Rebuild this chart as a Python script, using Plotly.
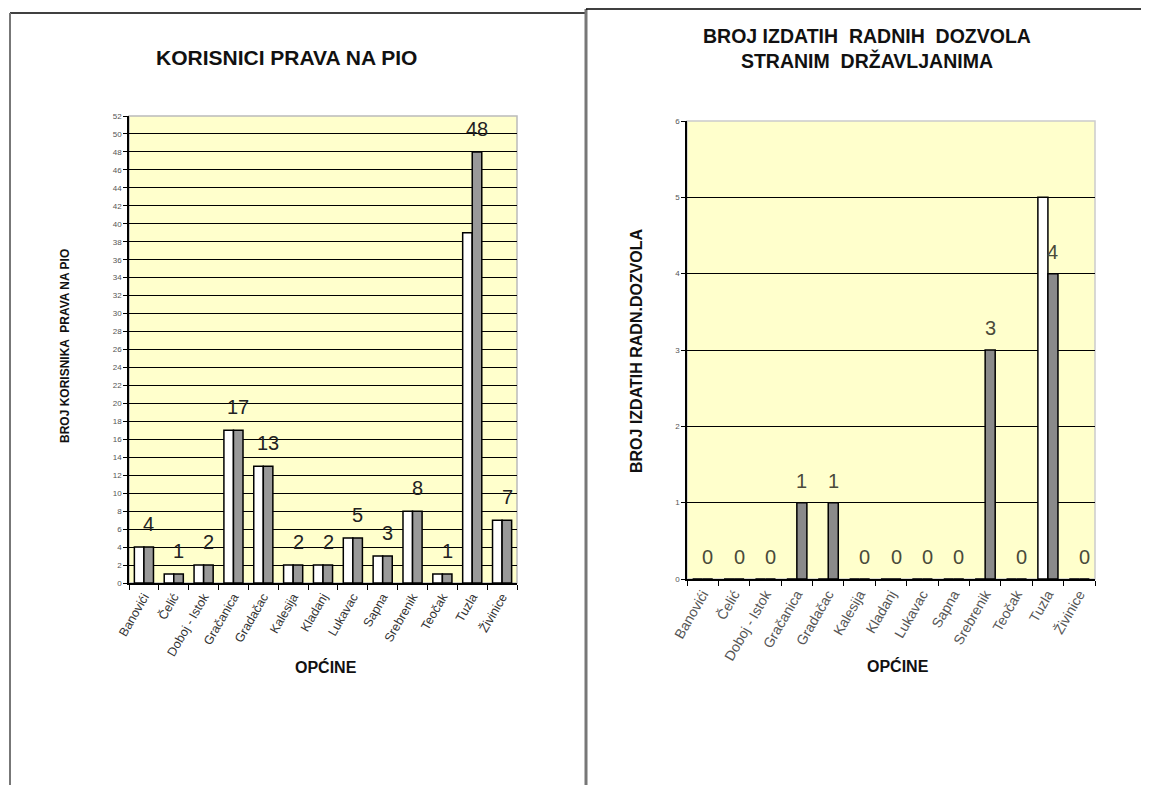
import plotly.graph_objects as go

# The page body has an 8px margin, so the figure is shrunk by that much and positions shifted.
OFF = 8
W, H = 1149 - OFF, 785 - OFF

opcine = ["Banovići", "Čelić", "Doboj - Istok", "Gračanica", "Gradačac", "Kalesija",
          "Kladanj", "Lukavac", "Sapna", "Srebrenik", "Teočak", "Tuzla", "Živinice"]

# Left chart: KORISNICI PRAVA NA PIO
pio_bijela = [4, 1, 2, 17, 13, 2, 2, 5, 3, 8, 1, 39, 7]
pio_siva = [4, 1, 2, 17, 13, 2, 2, 5, 3, 8, 1, 48, 7]
pio_yticks = list(range(0, 53, 2))

# Right chart: BROJ IZDATIH RADNIH DOZVOLA
dozvole_bijela = [0, 0, 0, 0, 0, 0, 0, 0, 0, 0, 0, 5, 0]
dozvole_siva = [0, 0, 0, 1, 1, 0, 0, 0, 0, 3, 0, 4, 0]
dozvole_yticks = list(range(0, 7, 1))

FONT = "Liberation Sans, Arial, sans-serif"


def px_x(p):
    return (p - OFF) / W


def px_y(p):
    return 1 - (p - OFF) / H


L_X = [px_x(129), px_x(517)]
L_Y = [px_y(583), px_y(116)]
R_X = [px_x(687), px_x(1095)]
R_Y = [px_y(579), px_y(121)]

fig = go.Figure()

fig.add_trace(go.Bar(x=opcine, y=pio_bijela, marker=dict(color="white", line=dict(color="black", width=1.5)),
                     xaxis="x", yaxis="y", hoverinfo="x+y"))
fig.add_trace(go.Bar(x=opcine, y=pio_siva, marker=dict(color="#999999", line=dict(color="black", width=1.5)),
                     xaxis="x", yaxis="y", hoverinfo="x+y"))
fig.add_trace(go.Bar(x=opcine, y=dozvole_bijela, marker=dict(color="white", line=dict(color="black", width=1.5)),
                     xaxis="x2", yaxis="y2", hoverinfo="x+y"))
fig.add_trace(go.Bar(x=opcine, y=dozvole_siva, marker=dict(color="#8a8a8a", line=dict(color="black", width=1.5)),
                     xaxis="x2", yaxis="y2", hoverinfo="x+y"))

annotations = []
for c, v in zip(opcine, pio_siva):
    annotations.append(dict(x=c, y=v, xref="x", yref="y", text=str(v), showarrow=False,
                            xshift=5, yshift=23, xanchor="center", yanchor="middle",
                            font=dict(family=FONT, size=20, color="#222222")))
for c, v in zip(opcine, dozvole_siva):
    annotations.append(dict(x=c, y=v, xref="x2", yref="y2", text=str(v), showarrow=False,
                            xshift=5, yshift=22, xanchor="center", yanchor="middle",
                            font=dict(family=FONT, size=20, color="#4a4a3a")))

# Titles and axis titles
annotations += [
    dict(x=px_x(286), y=px_y(58), text="<b>KORISNICI PRAVA NA PIO</b>",
         font=dict(family=FONT, size=21, color="#111111")),
    dict(x=px_x(867), y=px_y(48),
         text="<b>BROJ IZDATIH  RADNIH  DOZVOLA<br>STRANIM  DRŽAVLJANIMA</b>",
         font=dict(family=FONT, size=19.5, color="#111111")),
    dict(x=px_x(326), y=px_y(667), text="<b>OPĆINE</b>",
         font=dict(family=FONT, size=16, color="#111111")),
    dict(x=px_x(898), y=px_y(666), text="<b>OPĆINE</b>",
         font=dict(family=FONT, size=16, color="#111111")),
    dict(x=px_x(65), y=px_y(346), text="<b>BROJ KORISNIKA  PRAVA NA PIO</b>", textangle=-90,
         font=dict(family=FONT, size=12, color="#111111")),
    dict(x=px_x(637), y=px_y(351), text="<b>BROJ IZDATIH RADN.DOZVOLA</b>", textangle=-90,
         font=dict(family=FONT, size=16, color="#111111")),
]
for a in annotations[-6:]:
    a.update(xref="paper", yref="paper", showarrow=False, xanchor="center", yanchor="middle")

shapes = [
    # plot-area frames (light gray)
    dict(type="rect", xref="paper", yref="paper", x0=L_X[0], x1=L_X[1], y0=L_Y[0], y1=L_Y[1],
         line=dict(color="#bbbbbb", width=1.5), layer="below"),
    dict(type="rect", xref="paper", yref="paper", x0=R_X[0], x1=R_X[1], y0=R_Y[0], y1=R_Y[1],
         line=dict(color="#cccccc", width=1.5), layer="below"),
    # left panel border
    dict(type="line", xref="paper", yref="paper", x0=px_x(10), x1=px_x(586), y0=px_y(13), y1=px_y(13),
         line=dict(color="black", width=1.5)),
    dict(type="line", xref="paper", yref="paper", x0=px_x(10), x1=px_x(10), y0=px_y(13), y1=0,
         line=dict(color="#777777", width=2)),
    dict(type="line", xref="paper", yref="paper", x0=px_x(586), x1=px_x(586), y0=px_y(9), y1=0,
         line=dict(color="#777777", width=3)),
    # right panel top
    dict(type="line", xref="paper", yref="paper", x0=px_x(586), x1=1, y0=px_y(9), y1=px_y(9),
         line=dict(color="black", width=1.5)),
]

xaxis_common = dict(type="category", categoryorder="array", tickangle=-60, showline=True, linecolor="black",
                    linewidth=1.5, ticks="outside", tickson="boundaries", ticklen=5, tickcolor="black",
                    showgrid=False, zeroline=False, fixedrange=True, automargin=False)
yaxis_common = dict(showline=True, linecolor="black", linewidth=1.5, ticks="outside", ticklen=4,
                    tickcolor="black", showgrid=True, gridcolor="black", gridwidth=1, zeroline=False,
                    fixedrange=True, automargin=False)

fig.update_layout(
    width=W, height=H,
    autosize=False,
    margin=dict(l=0, r=0, t=0, b=0, pad=0, autoexpand=False),
    paper_bgcolor="white",
    plot_bgcolor="#FFFFCC",
    showlegend=False,
    barmode="group",
    bargap=0.36,
    bargroupgap=0,
    font=dict(family=FONT),
    xaxis=dict(domain=L_X, anchor="y", categoryarray=opcine,
               tickfont=dict(family=FONT, size=12.5, color="#333333"), **xaxis_common),
    yaxis=dict(domain=L_Y, anchor="x", range=[0, 52], tickvals=pio_yticks,
               tickfont=dict(family=FONT, size=8, color="#555555"), **yaxis_common),
    xaxis2=dict(domain=R_X, anchor="y2", categoryarray=opcine,
                tickfont=dict(family=FONT, size=14, color="#555555"), **xaxis_common),
    yaxis2=dict(domain=R_Y, anchor="x2", range=[0, 6], tickvals=dozvole_yticks,
                tickfont=dict(family=FONT, size=8, color="#555555"), **yaxis_common),
    annotations=annotations,
    shapes=shapes,
)

fig.write_html("out.html")
